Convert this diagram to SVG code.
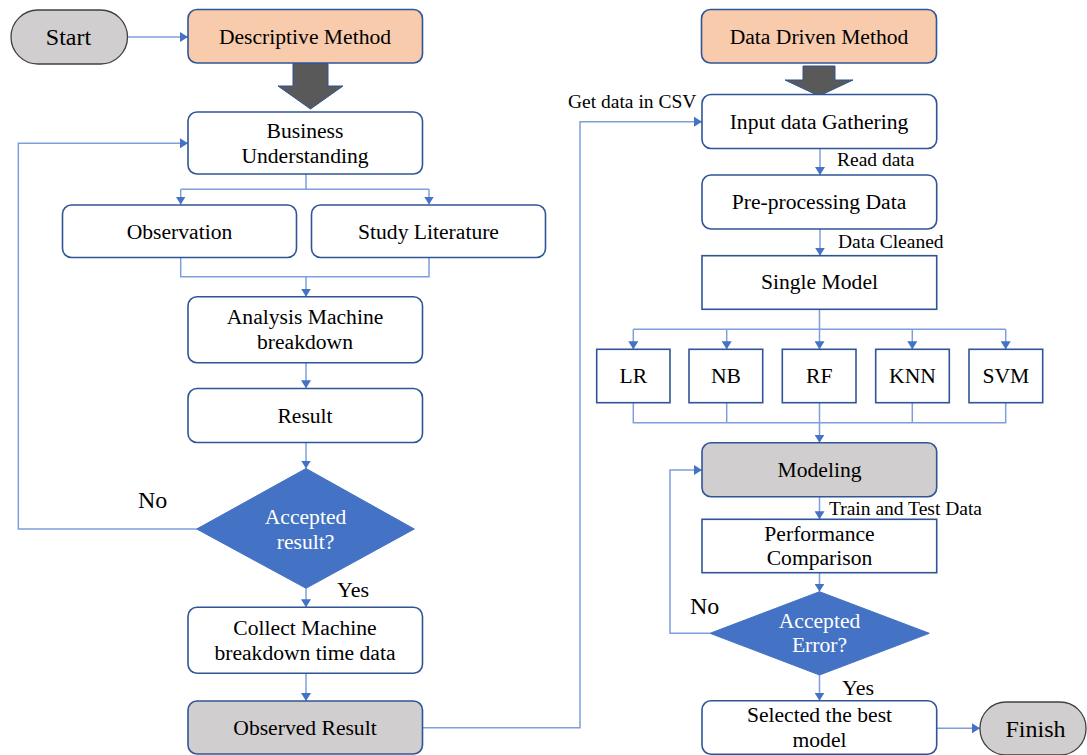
<svg xmlns="http://www.w3.org/2000/svg" width="1087" height="755" viewBox="0 0 1087 755">
<defs>
<marker id="ah" viewBox="0 0 8 10" refX="8" refY="5" markerWidth="8" markerHeight="10" markerUnits="userSpaceOnUse" orient="auto" preserveAspectRatio="none">
<path d="M0,0 L8,5 L0,10 z" fill="#4472c4"/>
</marker>
<style>
.box{fill:#ffffff;stroke:#2f5597;stroke-width:1.6}
.peach{fill:#f8cbad;stroke:#2f5597;stroke-width:1.6}
.grey{fill:#d0cece;stroke:#2f5597;stroke-width:1.6}
.pill{fill:#d0cece;stroke:#404040;stroke-width:1.3}
.dia{fill:#4472c4;stroke:#4472c4;stroke-width:1}
.big{fill:#595959;stroke:#2f5597;stroke-width:1}
text{font-family:'Liberation Serif','Tinos','Times New Roman','DejaVu Serif',serif}
.t{font-size:21.6px;fill:#000;text-anchor:middle}
.tw{font-size:21.6px;fill:#ffffff;text-anchor:middle}
.tb{font-size:24px;fill:#000;text-anchor:middle}
.lab{font-size:19.5px;fill:#000}
.yes{font-size:22px;fill:#000}
.no{font-size:24px;fill:#000}
.c{fill:none;stroke:#7f9fdc;stroke-width:1.5}
.ca{fill:none;stroke:#7f9fdc;stroke-width:1.5;marker-end:url(#ah)}
</style>
</defs>

<g id="connectors">
<path class="ca" d="M127.7,37 H188"/>
<path class="c" d="M306,174 V189.3 M180.7,189.3 H429"/>
<path class="ca" d="M180.7,189.3 V204.5"/>
<path class="ca" d="M429,189.3 V204.5"/>
<path class="c" d="M180.7,257.5 V276.7 H429 V257.5"/>
<path class="ca" d="M306,276.7 V296.7"/>
<path class="ca" d="M306,362.7 V388.3"/>
<path class="ca" d="M306,442.7 V468.5"/>
<path class="ca" d="M196.7,529 H18.3 V143.3 H188"/>
<path class="ca" d="M306,588.3 V607.3"/>
<path class="ca" d="M306,673.3 V701"/>
<path class="ca" d="M422.5,727.7 H580 V121.7 H702"/>
<path class="ca" d="M820,148.3 V175"/>
<path class="ca" d="M820,229 V255.7"/>
<path class="c" d="M819.5,309.3 V329.3 M633.3,329.3 H1005.7"/>
<path class="ca" d="M633.3,329.3 V349.3"/>
<path class="ca" d="M726.7,329.3 V349.3"/>
<path class="ca" d="M819.5,329.3 V349.3"/>
<path class="ca" d="M912.3,329.3 V349.3"/>
<path class="ca" d="M1005.7,329.3 V349.3"/>
<path class="c" d="M633.3,402.7 V422.7 H1005.7 V402.7 M726.7,402.7 V422.7 M912.3,402.7 V422.7"/>
<path class="ca" d="M819.5,402.7 V442.7"/>
<path class="ca" d="M819.5,496.7 V519.3"/>
<path class="ca" d="M819.5,572.7 V591.7"/>
<path class="ca" d="M710,633.3 H670 V470 H702"/>
<path class="ca" d="M819.5,675 V700.7"/>
<path class="ca" d="M936.7,728.3 H980"/>
</g>

<g id="start"><rect class="pill" x="11" y="10" width="116.5" height="54" rx="27"/><text class="tb" x="68.5" y="45">Start</text></g>
<g id="descriptive"><rect class="peach" x="188" y="9.5" width="234.5" height="53.5" rx="9"/><text class="t" x="305" y="43.5">Descriptive Method</text></g>
<g id="bigarrow1"><polygon class="big" points="293,63.5 328,63.5 328,86 343,86 310.5,109 278,86 293,86"/></g>
<g id="business"><rect class="box" x="188" y="112" width="234.5" height="62" rx="9"/><text class="t" x="305" y="137.5">Business</text><text class="t" x="305" y="162.7">Understanding</text></g>
<g id="observation"><rect class="box" x="62.5" y="205" width="234" height="52.5" rx="9"/><text class="t" x="179.5" y="239">Observation</text></g>
<g id="literature"><rect class="box" x="311.5" y="205" width="234" height="52.5" rx="9"/><text class="t" x="428.5" y="239">Study Literature</text></g>
<g id="analysis"><rect class="box" x="188" y="296.7" width="234.5" height="66" rx="9"/><text class="t" x="305" y="324">Analysis Machine</text><text class="t" x="305" y="349.3">breakdown</text></g>
<g id="result"><rect class="box" x="188" y="388.5" width="234.5" height="54" rx="9"/><text class="t" x="305" y="423.3">Result</text></g>
<g id="decision1"><polygon class="dia" points="306,468.5 414.3,529 306,588.3 196.7,529"/><text class="tw" x="305.5" y="524">Accepted</text><text class="tw" x="305.5" y="549">result?</text></g>
<g id="labels-left"><text class="no" x="138" y="508.3">No</text><text class="yes" x="337" y="597.3">Yes</text></g>
<g id="collect"><rect class="box" x="188" y="607.3" width="234.5" height="66" rx="9"/><text class="t" x="305" y="635">Collect Machine</text><text class="t" x="305" y="660">breakdown time data</text></g>
<g id="observed"><rect class="grey" x="188" y="701" width="234.5" height="53" rx="9"/><text class="t" x="305" y="735">Observed Result</text></g>
<g id="csvlabel"><text class="lab" x="568" y="108.3">Get data in CSV</text></g>

<g id="datadriven"><rect class="peach" x="701.5" y="9.5" width="235" height="53.5" rx="9"/><text class="t" x="819" y="43.5">Data Driven Method</text></g>
<g id="bigarrow2"><polygon class="big" points="803,66 835,66 835,80 853,80 819,96 785,80 803,80"/></g>
<g id="input"><rect class="box" x="702" y="94.5" width="234.7" height="54" rx="9"/><text class="t" x="819" y="128.5">Input data Gathering</text></g>
<g id="readlabel"><text class="lab" x="837" y="166">Read data</text></g>
<g id="preprocess"><rect class="box" x="702" y="175" width="234.7" height="54" rx="9"/><text class="t" x="819" y="209">Pre-processing Data</text></g>
<g id="cleanlabel"><text class="lab" x="838" y="248">Data Cleaned</text></g>
<g id="single"><rect class="box" x="702" y="255.7" width="234.7" height="53.6"/><text class="t" x="819.5" y="289.3">Single Model</text></g>
<g id="lr"><rect class="box" x="596.7" y="349.3" width="73.3" height="53.4"/><text class="t" x="633.3" y="383.3">LR</text></g>
<g id="nb"><rect class="box" x="689" y="349.3" width="73.7" height="53.4"/><text class="t" x="726" y="383.3">NB</text></g>
<g id="rf"><rect class="box" x="782.3" y="349.3" width="73.7" height="53.4"/><text class="t" x="819.2" y="383.3">RF</text></g>
<g id="knn"><rect class="box" x="875.7" y="349.3" width="73.6" height="53.4"/><text class="t" x="912.5" y="383.3">KNN</text></g>
<g id="svm"><rect class="box" x="969" y="349.3" width="73.7" height="53.4"/><text class="t" x="1005.8" y="383.3">SVM</text></g>
<g id="modeling"><rect class="grey" x="702" y="442.7" width="234.7" height="54" rx="9"/><text class="t" x="819.5" y="476.7">Modeling</text></g>
<g id="trainlabel"><text class="lab" x="829" y="515">Train and Test Data</text></g>
<g id="performance"><rect class="box" x="702" y="519.3" width="234.7" height="53.4"/><text class="t" x="819.5" y="540.5">Performance</text><text class="t" x="819.5" y="565">Comparison</text></g>
<g id="decision2"><polygon class="dia" points="819.5,591.7 929.3,633.3 819.5,675 710,633.3"/><text class="tw" x="819.5" y="627.5">Accepted</text><text class="tw" x="819.5" y="652.3">Error?</text></g>
<g id="labels-right"><text class="no" x="690" y="614">No</text><text class="yes" x="842" y="695">Yes</text></g>
<g id="selected"><rect class="box" x="702" y="700.7" width="234.7" height="53.5" rx="9"/><text class="t" x="819.5" y="722.3">Selected the best</text><text class="t" x="819.5" y="747">model</text></g>
<g id="finish"><rect class="pill" x="980" y="702" width="106" height="53" rx="26"/><text class="tb" x="1035.5" y="736.7">Finish</text></g>
</svg>
